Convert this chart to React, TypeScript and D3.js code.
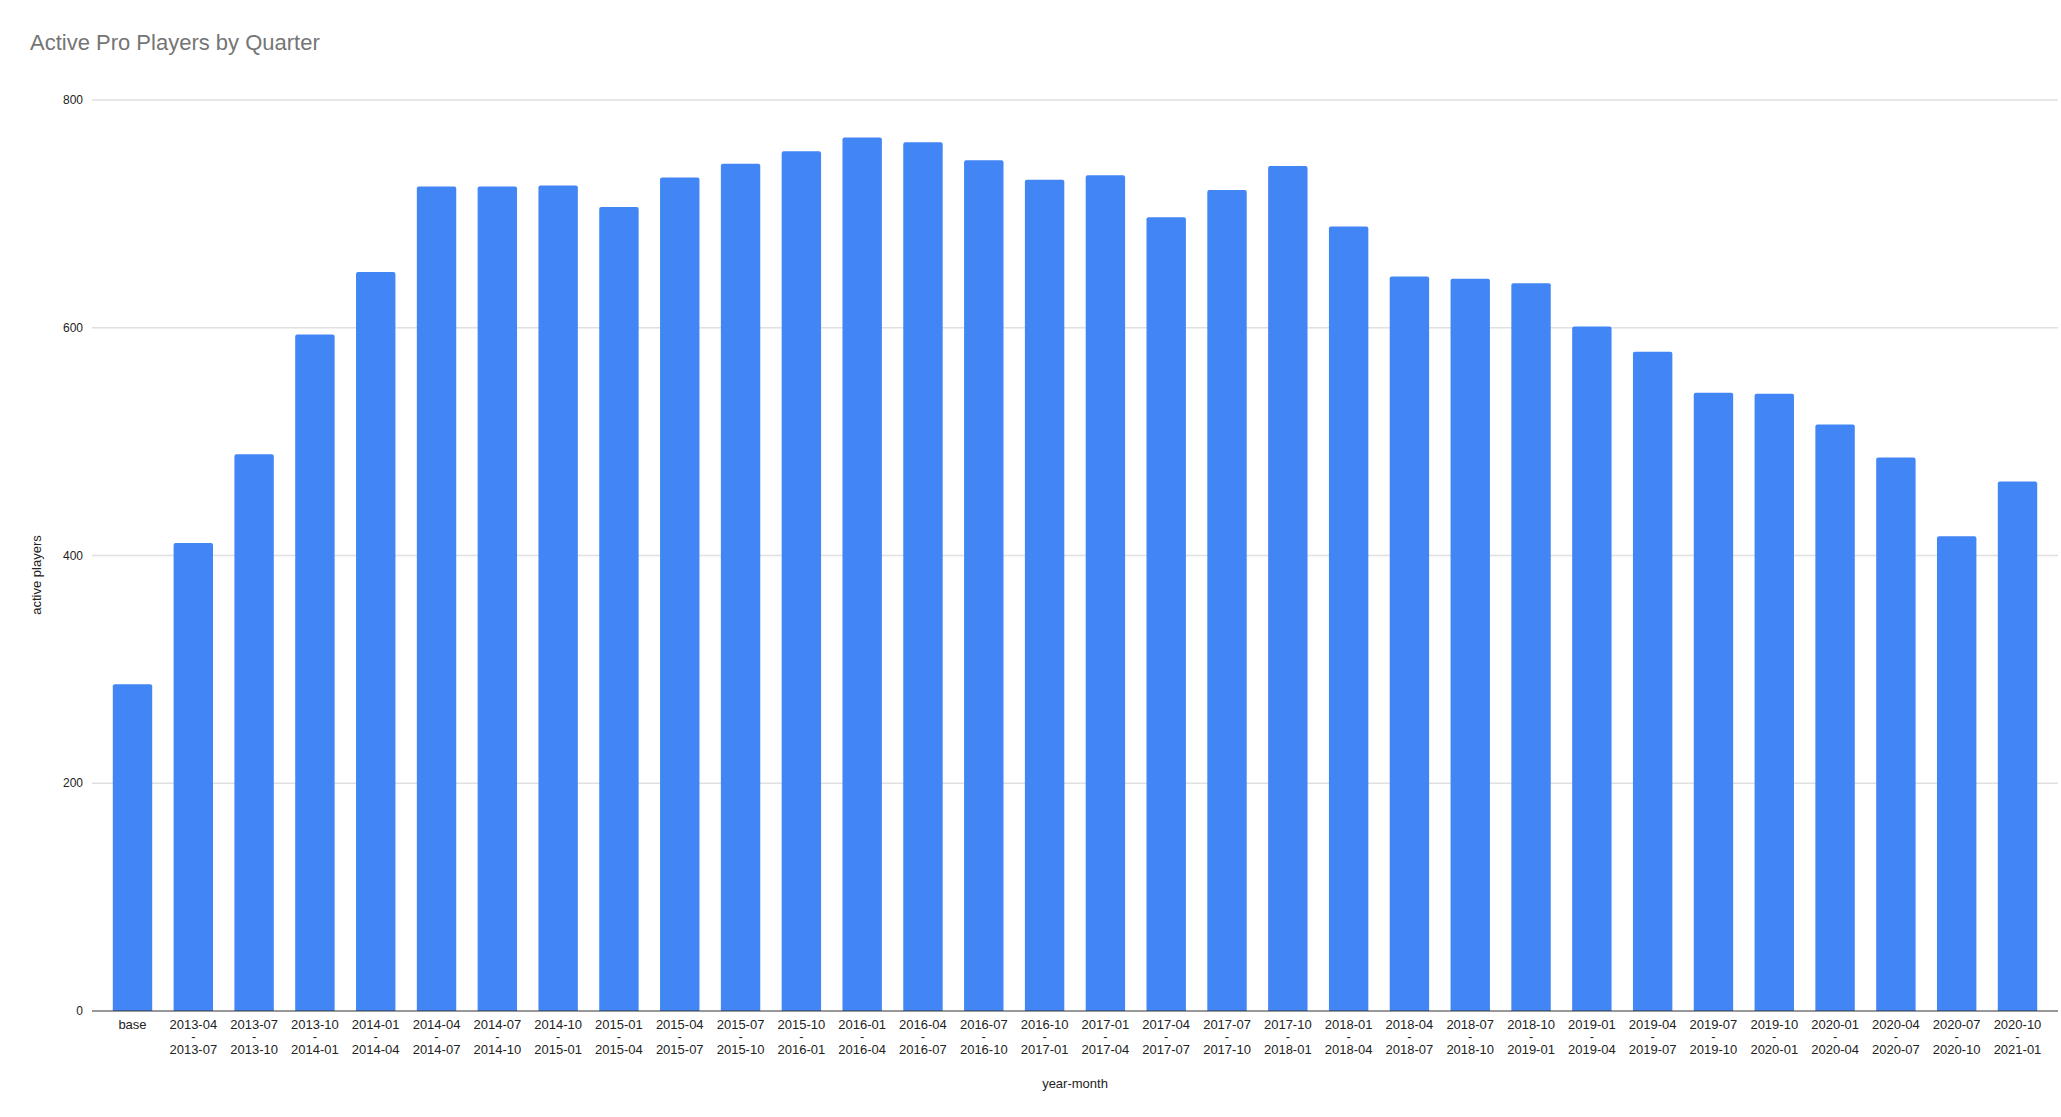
import React from "react";
import * as d3 from "d3";

const categories: string[] = [
  "base",
  "2013-04 - 2013-07", "2013-07 - 2013-10", "2013-10 - 2014-01", "2014-01 - 2014-04",
  "2014-04 - 2014-07", "2014-07 - 2014-10", "2014-10 - 2015-01", "2015-01 - 2015-04",
  "2015-04 - 2015-07", "2015-07 - 2015-10", "2015-10 - 2016-01", "2016-01 - 2016-04",
  "2016-04 - 2016-07", "2016-07 - 2016-10", "2016-10 - 2017-01", "2017-01 - 2017-04",
  "2017-04 - 2017-07", "2017-07 - 2017-10", "2017-10 - 2018-01", "2018-01 - 2018-04",
  "2018-04 - 2018-07", "2018-07 - 2018-10", "2018-10 - 2019-01", "2019-01 - 2019-04",
  "2019-04 - 2019-07", "2019-07 - 2019-10", "2019-10 - 2020-01", "2020-01 - 2020-04",
  "2020-04 - 2020-07", "2020-07 - 2020-10", "2020-10 - 2021-01",
];

const activePlayers: number[] = [
  287, 411, 489, 594, 649, 724, 724, 725, 706, 732, 744, 755, 767, 763, 747, 730,
  734, 697, 721, 742, 689, 645, 643, 639, 601, 579, 543, 542, 515, 486, 417, 465,
];

const yTicks: number[] = [0, 200, 400, 600, 800];

const title = "Active Pro Players by Quarter";
const xTitle = "year-month";
const yTitle = "active players";

const W = 2061;
const H = 1117;
const FONT = "Arial, 'Liberation Sans', sans-serif";

function topRoundedBar(x: number, y: number, w: number, h: number, r: number): string {
  const rr = Math.min(r, w / 2, h);
  return `M${x},${y + h}V${y + rr}Q${x},${y} ${x + rr},${y}H${x + w - rr}Q${x + w},${y} ${x + w},${y + rr}V${y + h}Z`;
}

export default function App() {
  const left = 92;
  const right = 2058;
  const top = 100;
  const bottom = 1011;

  const x = d3
    .scaleBand<string>()
    .domain(categories)
    .range([left, right])
    .paddingInner(0.352)
    .paddingOuter(0.342);

  const y = d3.scaleLinear().domain([0, 800]).range([bottom, top]);

  return (
    <svg
      width={W}
      height={H}
      style={{ position: "absolute", left: 0, top: 0, display: "block", background: "#fff" }}
      fontFamily={FONT}
    >
      <rect x={0} y={0} width={W} height={H} fill="#ffffff" />
      <text x={30} y={50} fontSize={22} fill="#757575">
        {title}
      </text>

      {yTicks.map((t) =>
        t === 0 ? null : (
          <line
            key={"g" + t}
            x1={left}
            x2={right}
            y1={y(t)}
            y2={y(t)}
            stroke="#e0e0e0"
            strokeWidth={1.4}
          />
        )
      )}

      {yTicks.map((t) => (
        <text
          key={"t" + t}
          x={83}
          y={y(t)}
          dy="0.35em"
          textAnchor="end"
          fontSize={12}
          fill="#222"
        >
          {t}
        </text>
      ))}

      {categories.map((c, i) => {
        const bx = x(c) as number;
        const by = y(activePlayers[i]);
        return (
          <path
            key={"b" + c}
            d={topRoundedBar(bx, by, x.bandwidth(), bottom - by, 2)}
            fill="#4285f4"
          />
        );
      })}

      <line x1={left} x2={right} y1={bottom} y2={bottom} stroke="#333" strokeWidth={1.2} />

      {categories.map((c) => {
        const cx = (x(c) as number) + x.bandwidth() / 2;
        const parts = c.split(" - ");
        const lines = parts.length === 2 ? [parts[0], "-", parts[1]] : [c];
        return (
          <text key={"l" + c} x={cx} y={1029} textAnchor="middle" fontSize={13} fill="#222">
            {lines.map((ln, k) => (
              <tspan key={k} x={cx} y={1029 + k * 12.4}>
                {ln}
              </tspan>
            ))}
          </text>
        );
      })}

      <text x={(left + right) / 2} y={1088} textAnchor="middle" fontSize={13} fill="#222">
        {xTitle}
      </text>
      <text
        transform={`translate(41,575) rotate(-90)`}
        textAnchor="middle"
        fontSize={13}
        fill="#222"
      >
        {yTitle}
      </text>
    </svg>
  );
}
